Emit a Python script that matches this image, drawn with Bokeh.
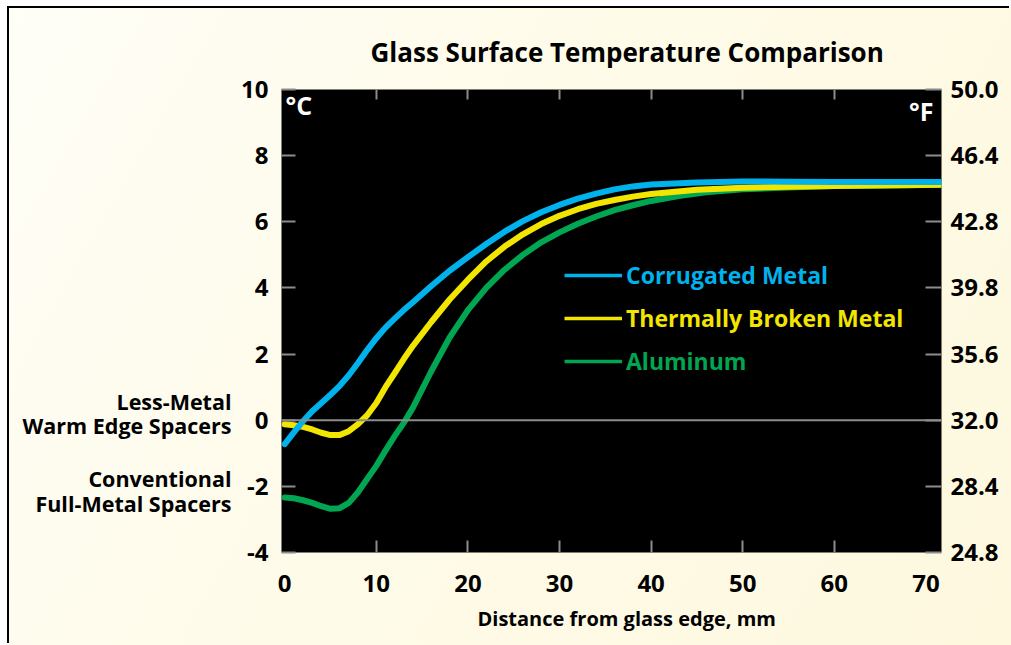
from bokeh.plotting import figure
from bokeh.models import (LinearAxis, FixedTicker, Range1d, Span, Label,
                          Legend, LegendItem, Title)
from bokeh.embed import file_html
from bokeh.resources import INLINE

# ---------------- data ----------------
title_text = "Glass Surface Temperature Comparison"
x_label = "Distance from glass edge, mm"

celsius_ticks = [-4, -2, 0, 2, 4, 6, 8, 10]
celsius_labels = ["-4", "-2", "0", "2", "4", "6", "8", "10"]
fahrenheit_labels = ["24.8", "28.4", "32.0", "35.6", "39.8", "42.8", "46.4", "50.0"]
x_tick_labels = [0, 10, 20, 30, 40, 50, 60, 70]
x_inner_ticks = [10, 20, 30, 40, 50, 60]

side_notes = ["Less-Metal", "Warm Edge Spacers", "Conventional", "Full-Metal Spacers"]
side_note_levels = [0.57, -0.17, -1.77, -2.51]

series_names = ["Corrugated Metal", "Thermally Broken Metal", "Aluminum"]

x_corr = [0, 1, 2, 3, 4, 5, 6, 7, 8, 9, 10, 11, 12, 13, 14, 16, 18, 20, 22, 24,
          26, 28, 30, 32, 34, 36, 38, 40, 45, 50, 55, 60, 65, 72]
y_corr = [-0.72, -0.37, -0.03, 0.27, 0.52, 0.77, 1.04, 1.36, 1.73, 2.12, 2.48,
          2.8, 3.07, 3.33, 3.57, 4.06, 4.52, 4.93, 5.33, 5.7, 6.02, 6.29, 6.51,
          6.7, 6.85, 6.98, 7.07, 7.13, 7.19, 7.22, 7.21, 7.2, 7.2, 7.2]

x_therm = [0, 1, 2, 3, 4, 5, 6, 7, 8, 9, 10, 11, 12, 13, 14, 16, 18, 20, 22, 24,
           26, 28, 30, 32, 34, 36, 38, 40, 45, 50, 55, 60, 65, 72]
y_therm = [-0.12, -0.15, -0.2, -0.28, -0.38, -0.45, -0.45, -0.33, -0.12, 0.15,
           0.52, 1.0, 1.42, 1.85, 2.25, 2.97, 3.65, 4.25, 4.8, 5.25, 5.62, 5.93,
           6.18, 6.38, 6.54, 6.66, 6.76, 6.84, 6.97, 7.03, 7.06, 7.08, 7.1, 7.12]

x_alum = [0, 1, 2, 3, 4, 5, 6, 7, 8, 9, 10, 11, 12, 13, 14, 15, 16, 18, 20, 22,
          24, 26, 28, 30, 32, 34, 36, 38, 40, 43, 46, 50, 55, 60, 65, 72]
y_alum = [-2.34, -2.36, -2.42, -2.5, -2.6, -2.68, -2.66, -2.5, -2.18, -1.78,
          -1.38, -0.92, -0.48, -0.08, 0.38, 0.93, 1.48, 2.5, 3.33, 4.0, 4.55,
          5.0, 5.38, 5.68, 5.94, 6.16, 6.35, 6.5, 6.63, 6.78, 6.89, 6.98, 7.04,
          7.08, 7.1, 7.12]

BLUE = "#00B2EB"
YELLOW = "#F2E600"
GREEN = "#00A651"
GRAY = "#8C8C8C"
FONT = "Open Sans"

# ---------------- figure ----------------
p = figure(width=1002, height=637, output_backend="svg", toolbar_location=None,
           x_range=Range1d(-0.35, 71.7), y_range=Range1d(-4, 10),
           x_axis_location=None, y_axis_location=None,
           min_border_left=272, min_border_right=70,
           min_border_top=81, min_border_bottom=93)
p.background_fill_color = "black"
p.border_fill_alpha = 0
p.outline_line_color = None
for g in p.grid:
    g.visible = False
p.styles = {"margin-left": "9px", "margin-top": "8px",
            "box-shadow": "-2px -2px 0px 0px #000",
            "background": "linear-gradient(120deg, #FFFEF7 0%, #FEFBEA 40%, #FDF8DE 100%)"}

def style_axis(ax, size="24px"):
    ax.axis_line_color = None
    ax.minor_tick_line_color = None
    ax.major_tick_out = 0
    ax.major_tick_line_color = GRAY
    ax.major_tick_line_width = 2
    ax.major_label_text_font = FONT
    ax.major_label_text_font_style = "bold"
    ax.major_label_text_font_size = size
    ax.major_label_text_color = "black"

# left axis (deg C)
yl = LinearAxis(ticker=FixedTicker(ticks=celsius_ticks))
style_axis(yl)
yl.major_tick_in = 14
yl.major_label_standoff = 13
yl.major_label_overrides = {c: s for c, s in zip(celsius_ticks, celsius_labels)}
p.add_layout(yl, "left")

# outer left "axis" carrying the spacer notes
yl2 = LinearAxis(ticker=FixedTicker(ticks=side_note_levels))
style_axis(yl2, "21.5px")
yl2.major_tick_in = 0
yl2.major_tick_line_color = None
yl2.major_label_standoff = 7
yl2.major_label_overrides = {v: s for v, s in zip(side_note_levels, side_notes)}
p.add_layout(yl2, "left")

# right axis (deg F)
yr = LinearAxis(ticker=FixedTicker(ticks=celsius_ticks))
style_axis(yr)
yr.major_tick_in = 16
yr.major_label_standoff = 9
yr.major_label_overrides = {c: f for c, f in zip(celsius_ticks, fahrenheit_labels)}
p.add_layout(yr, "right")

# top ticks only
xt = LinearAxis(ticker=FixedTicker(ticks=x_inner_ticks))
style_axis(xt, "0px")
xt.major_tick_in = 10
xt.major_label_standoff = 0
p.add_layout(xt, "above")

# bottom ticks only (closest to frame)
xb1 = LinearAxis(ticker=FixedTicker(ticks=x_inner_ticks))
style_axis(xb1, "0px")
xb1.major_tick_in = 12
xb1.major_label_standoff = 0
p.add_layout(xb1, "below")

# bottom labels
xb2 = LinearAxis(ticker=FixedTicker(ticks=x_tick_labels))
style_axis(xb2)
xb2.major_tick_in = 0
xb2.major_tick_line_color = None
xb2.major_label_standoff = 22
p.add_layout(xb2, "below")

# title and x label as titles (outside the frame)
t_top = Title(text=title_text, align="left", offset=89, standoff=40,
              text_font=FONT, text_font_style="bold", text_font_size="26px",
              text_color="black")
p.add_layout(t_top, "above")
t_bot = Title(text=x_label, align="left", offset=196, standoff=16,
              text_font=FONT, text_font_style="bold", text_font_size="20px",
              text_color="black")
p.add_layout(t_bot, "below")

# zero line
p.add_layout(Span(location=0, dimension="width", line_color=GRAY, line_width=2))

# thin proxies (hidden under the curves) used for the legend swatches
proxies = []
for xs, ys, col in [(x_corr, y_corr, BLUE), (x_therm, y_therm, YELLOW), (x_alum, y_alum, GREEN)]:
    proxies.append(p.line(xs, ys, line_color=col, line_width=3.5))

# curves
r_alum = p.line(x_alum, y_alum, line_color=GREEN, line_width=6, line_cap="round", line_join="round")
r_therm = p.line(x_therm, y_therm, line_color=YELLOW, line_width=6, line_cap="round", line_join="round")
r_corr = p.line(x_corr, y_corr, line_color=BLUE, line_width=6, line_cap="round", line_join="round")

# legend (one legend per entry so each label has its own colour)
legend_rows = [(series_names[0], BLUE, 261, proxies[0]),
               (series_names[1], YELLOW, 218, proxies[1]),
               (series_names[2], GREEN, 175, proxies[2])]
for name, col, ypos, prox in legend_rows:
    lg = Legend(items=[LegendItem(label=name, renderers=[prox])],
                location=(283, ypos), orientation="vertical",
                glyph_width=58, glyph_height=32, label_height=32,
                label_standoff=4, padding=0, margin=0, spacing=0,
                background_fill_alpha=0, border_line_color=None,
                label_text_color=col, label_text_font=FONT,
                label_text_font_style="bold", label_text_font_size="23px")
    p.add_layout(lg)

def add_label(text, x, y, size, color="black", align="left", baseline="alphabetic"):
    p.add_layout(Label(x=x, y=y, x_units="screen", y_units="screen", text=text,
                       text_font=FONT, text_font_style="bold", text_font_size=size,
                       text_color=color, text_align=align, text_baseline=baseline))

add_label("\u00b0C", 4, 448, "25px", color="white")
add_label("\u00b0F", 652, 442, "25px", color="white", align="right")

open("out.html", "w").write(file_html(p, INLINE))
